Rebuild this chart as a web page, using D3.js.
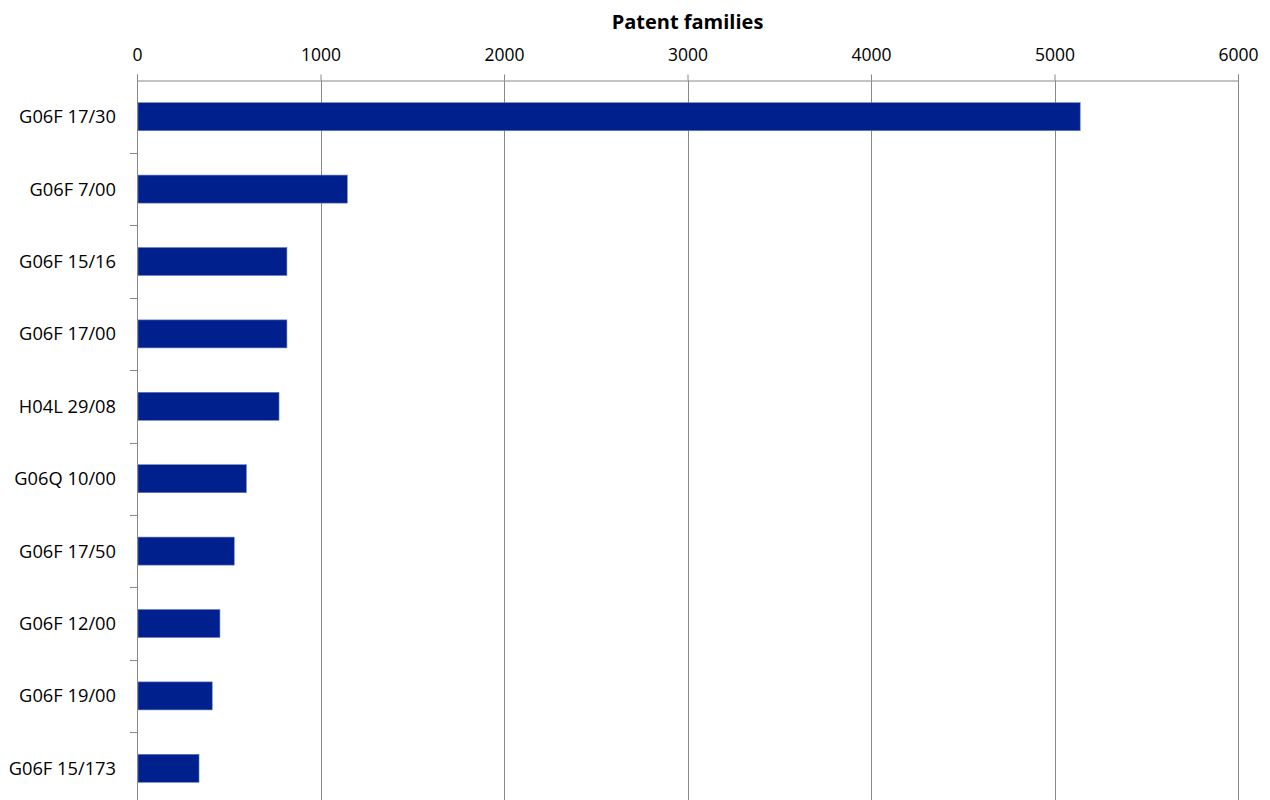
<!DOCTYPE html>
<html>
<head>
<meta charset="utf-8">
<script src="https://cdn.jsdelivr.net/npm/d3@7"></script>
<style>
  html, body { margin: 0; padding: 0; background: #fff; }
  svg { display: block; font-family: "Open Sans", "Liberation Sans", sans-serif; }
</style>
</head>
<body>
<svg id="chart" width="1270" height="800"></svg>
<script>
// IPC classes, ranked by number of patent families
const categories = ["G06F 17/30", "G06F 7/00", "G06F 15/16", "G06F 17/00", "H04L 29/08",
                    "G06Q 10/00", "G06F 17/50", "G06F 12/00", "G06F 19/00", "G06F 15/173"];
const families = [5140, 1146, 817, 817, 774, 596, 530, 452, 410, 338];
const xTicks = [0, 1000, 2000, 3000, 4000, 5000, 6000];
const axisTitle = "Patent families";

const svg = d3.select("#chart");
const plotLeft = 137, plotRight = 1238, plotTop = 80.5, bandStep = 72.4;
const plotBottom = plotTop + bandStep * categories.length;

const x = d3.scaleLinear().domain([0, 6000]).range([plotLeft, plotRight]);
const y = d3.scaleBand().domain(categories).range([plotTop, plotBottom])
  .paddingInner(0.613).paddingOuter(0.3065);

// vertical gridlines
svg.append("g").selectAll("line").data(xTicks.slice(1)).join("line")
  .attr("x1", d => Math.round(x(d)) + 0.5).attr("x2", d => Math.round(x(d)) + 0.5)
  .attr("y1", plotTop).attr("y2", 800)
  .attr("stroke", "#888").attr("stroke-width", 1);

// top axis
const xAxis = d3.axisTop(x).tickValues(xTicks).tickSize(6).tickPadding(14).tickFormat(d3.format("d"));
const gx = svg.append("g").attr("transform", `translate(0,${plotTop})`).call(xAxis);
gx.select(".domain").attr("stroke", "#888");
gx.selectAll(".tick line").attr("stroke", "#888");
gx.selectAll(".tick text").attr("fill", "#000").style("font-size", "17.5px")
  .style("font-family", "'Open Sans', sans-serif");

// bars
svg.append("g").selectAll("rect").data(categories).join("rect")
  .attr("x", x(0) + 1)
  .attr("y", d => y(d))
  .attr("width", (d, i) => x(families[i]) - x(0) - 1)
  .attr("height", y.bandwidth())
  .attr("fill", "#00208e")
  .attr("stroke", "#6b7fc4").attr("stroke-width", 0.6);

// left axis with ticks on band boundaries
const boundaries = d3.range(1, categories.length + 1).map(i => plotTop + i * bandStep);
const ga = svg.append("g");
ga.append("line").attr("x1", plotLeft + 0.5).attr("x2", plotLeft + 0.5).attr("y1", plotTop).attr("y2", 800)
  .attr("stroke", "#888");
ga.selectAll("line.tk").data(boundaries).join("line").attr("class", "tk")
  .attr("x1", plotLeft - 7).attr("x2", plotLeft)
  .attr("y1", d => Math.round(d) + 0.5).attr("y2", d => Math.round(d) + 0.5)
  .attr("stroke", "#888");
ga.selectAll("text").data(categories).join("text")
  .attr("x", plotLeft - 21)
  .attr("y", d => y(d) + y.bandwidth() / 2)
  .attr("dy", "0.35em")
  .attr("text-anchor", "end")
  .style("font-size", "18.3px")
  .attr("fill", "#000")
  .text(d => d);

// axis title
svg.append("text")
  .attr("x", (plotLeft + plotRight) / 2).attr("y", 29)
  .attr("text-anchor", "middle")
  .style("font-size", "20px").style("font-weight", "bold")
  .text(axisTitle);
</script>
</body>
</html>
